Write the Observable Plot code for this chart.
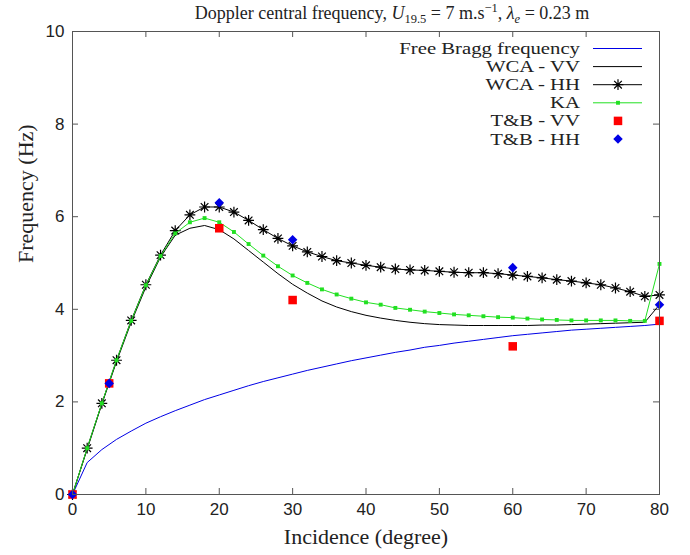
<!DOCTYPE html>
<html><head><meta charset="utf-8">
<script src="https://cdn.jsdelivr.net/npm/d3@7"></script>
<script src="https://cdn.jsdelivr.net/npm/@observablehq/plot@0.6"></script>
<style>html,body{margin:0;padding:0;background:#fff}#chart svg{display:block}</style>
</head><body><div id="chart"></div>
<script>
// ---- data ----
const incidence = [0,2,4,6,8,10,12,14,16,18,20,22,24,26,28,30,32,34,36,38,40,42,44,46,48,50,52,54,56,58,60,62,64,66,68,70,72,74,76,78,80];
const freeBragg = [0,0.69,0.97,1.19,1.37,1.54,1.68,1.81,1.93,2.05,2.15,2.25,2.35,2.44,2.52,2.6,2.68,2.75,2.82,2.89,2.95,3.01,3.07,3.12,3.18,3.22,3.27,3.31,3.35,3.39,3.43,3.46,3.49,3.52,3.55,3.57,3.59,3.61,3.63,3.65,3.68];
const wcaVV = [0,0.98,1.95,2.87,3.72,4.48,5.13,5.6,5.75,5.81,5.72,5.52,5.27,5.02,4.77,4.54,4.35,4.18,4.05,3.95,3.87,3.81,3.76,3.72,3.69,3.67,3.66,3.65,3.65,3.65,3.65,3.65,3.66,3.66,3.67,3.68,3.69,3.7,3.71,3.72,4.1];
const wcaHH = [0,1.0,1.97,2.9,3.76,4.53,5.17,5.7,6.04,6.21,6.21,6.1,5.92,5.72,5.53,5.37,5.24,5.14,5.05,5.0,4.95,4.91,4.87,4.85,4.84,4.82,4.8,4.79,4.79,4.77,4.74,4.71,4.68,4.64,4.61,4.57,4.53,4.46,4.38,4.28,4.31];
const ka = [0,1.0,1.97,2.9,3.75,4.52,5.15,5.64,5.88,5.97,5.88,5.67,5.41,5.16,4.93,4.73,4.57,4.43,4.32,4.23,4.15,4.1,4.03,3.99,3.95,3.92,3.89,3.87,3.85,3.83,3.82,3.8,3.78,3.77,3.76,3.76,3.76,3.76,3.75,3.75,4.98];
const tbIncidence = [0,5,20,30,60,80];
const tbVV = [0,2.4,5.75,4.2,3.2,3.75];
const tbHH = [0,2.4,6.3,5.5,4.9,4.1];
const xTicks = [0,10,20,30,40,50,60,70,80];
const yTicks = [0,2,4,6,8,10];
const legendLabels = ["Free Bragg frequency","WCA - VV","WCA - HH","KA","T&B - VV","T&B - HH"];
const xLabel = "Incidence (degree)";
const yLabel = "Frequency (Hz)";

// ---- layout / style ----
const W = 690, H = 555, mL = 72, mR = 31, mT = 31, mB = 61;
const innerW = W - mL - mR, innerH = H - mT - mB;
const tickLen = 6;
const frameColor = "#555";
const BLUE = "#0000e6", GREEN = "#22e022", RED = "#ff0000";
const sans = "'Liberation Sans', Arial, sans-serif";
const serif = "'Liberation Serif', 'Times New Roman', serif";
const starR = 5.4, kaR = 2.2, redR = 4.8, diaR = 4.3;

const rows = incidence.map((x, i) => ({x, bragg: freeBragg[i], vv: wcaVV[i], hh: wcaHH[i], ka: ka[i]}));
const tb = tbIncidence.map((x, i) => ({x, vv: tbVV[i], hh: tbHH[i]}));

// gnuplot-style 8-spoke star
const star8 = {
  draw(ctx, size) {
    const r = Math.sqrt(size / Math.PI);
    for (let k = 0; k < 4; k++) {
      const a = k * Math.PI / 4, c = Math.cos(a) * r, s = Math.sin(a) * r;
      ctx.moveTo(-c, -s); ctx.lineTo(c, s);
    }
  }
};

const plot = Plot.plot({
  width: W, height: H,
  marginLeft: mL, marginRight: mR, marginTop: mT, marginBottom: mB,
  x: {domain: [0, 80]},
  y: {domain: [0, 10]},
  style: {background: "white", fontFamily: sans, color: "#222"},
  marks: [
    Plot.tickX(xTicks, {x: d => d, insetTop: innerH - tickLen, stroke: frameColor}),
    Plot.tickX(xTicks, {x: d => d, insetBottom: innerH - tickLen, stroke: frameColor}),
    Plot.tickY(yTicks, {y: d => d, insetRight: innerW - tickLen, stroke: frameColor}),
    Plot.tickY(yTicks, {y: d => d, insetLeft: innerW - tickLen, stroke: frameColor}),
    Plot.axisX({ticks: xTicks, tickSize: 0, tickPadding: 8, label: null, fontSize: 17, fontFamily: sans}),
    Plot.axisY({ticks: yTicks, tickSize: 0, tickPadding: 8, label: null, fontSize: 17, fontFamily: sans}),
    Plot.line(rows, {x: "x", y: "bragg", stroke: BLUE, strokeWidth: 1}),
    Plot.line(rows, {x: "x", y: "vv", stroke: "black", strokeWidth: 1}),
    Plot.line(rows, {x: "x", y: "hh", stroke: "black", strokeWidth: 1}),
    Plot.dot(rows, {x: "x", y: "hh", symbol: star8, r: starR, stroke: "black", strokeWidth: 1.2, fill: "none"}),
    Plot.line(rows, {x: "x", y: "ka", stroke: GREEN, strokeWidth: 1}),
    Plot.dot(rows, {x: "x", y: "ka", symbol: "square", r: kaR, fill: GREEN, stroke: "none"}),
    Plot.dot(tb, {x: "x", y: "vv", symbol: "square", r: redR, fill: RED, stroke: "none"}),
    Plot.dot(tb, {x: "x", y: "hh", symbol: "diamond2", r: diaR, fill: BLUE, stroke: "none"}),
    Plot.frame({stroke: frameColor}),
    Plot.text([xLabel], {text: d => d, frameAnchor: "bottom", dy: 49, fontFamily: serif, fontSize: 22, fill: "#222"}),
    Plot.text([yLabel], {text: d => d, frameAnchor: "left", dx: -47, rotate: -90, fontFamily: serif, fontSize: 22, fill: "#222"})
  ]
});
document.getElementById("chart").appendChild(plot);

const svg = d3.select(plot);
// Title with sub/superscripts
const t = svg.append("text").attr("x", 392).attr("y", 19).attr("text-anchor", "middle")
  .attr("font-family", serif).attr("font-size", 18).attr("fill", "#222");
t.append("tspan").text("Doppler central frequency, ");
t.append("tspan").attr("font-style", "italic").text("U");
t.append("tspan").attr("font-size", 12.5).attr("dy", 4).text("19.5");
t.append("tspan").attr("dy", -4).text(" = 7 m.s");
t.append("tspan").attr("font-size", 12.5).attr("dy", -7).text("\u22121");
t.append("tspan").attr("dy", 7).text(", ");
t.append("tspan").attr("font-style", "italic").text("\u03bb");
t.append("tspan").attr("font-style", "italic").attr("font-size", 12.5).attr("dy", 4).text("e");
t.append("tspan").attr("dy", -4).text(" = 0.23 m");

// Legend (top-right, inside the frame)
const lg = svg.append("g");
const legY0 = 48.5, legDy = 18.1, textRight = 580, sx1 = 593, sx2 = 642, smid = 618;
legendLabels.forEach((lab, i) => {
  const y = legY0 + i * legDy;
  lg.append("text").attr("transform", `translate(${textRight},${y + 5.5}) scale(1.22,1)`)
    .attr("text-anchor", "end")
    .attr("font-family", serif).attr("font-size", 17).attr("fill", "#222").text(lab);
  const line = (c) => lg.append("line").attr("x1", sx1).attr("x2", sx2).attr("y1", y).attr("y2", y).attr("stroke", c).attr("stroke-width", 1);
  if (i === 0) line(BLUE);
  if (i === 1) line("black");
  if (i === 2) {
    line("black");
    lg.append("path").attr("d", d3.symbol(star8, Math.PI * starR * starR)()).attr("transform", `translate(${smid},${y})`).attr("stroke", "black").attr("stroke-width", 1.2).attr("fill", "none");
  }
  if (i === 3) {
    line(GREEN);
    lg.append("path").attr("d", d3.symbol(d3.symbolSquare, Math.PI * kaR * kaR)()).attr("transform", `translate(${smid},${y})`).attr("fill", GREEN);
  }
  if (i === 4) lg.append("path").attr("d", d3.symbol(d3.symbolSquare, Math.PI * redR * redR)()).attr("transform", `translate(${smid},${y})`).attr("fill", RED);
  if (i === 5) lg.append("path").attr("d", d3.symbol(d3.symbolDiamond2, Math.PI * diaR * diaR)()).attr("transform", `translate(${smid},${y})`).attr("fill", BLUE);
});
</script>
</body></html>
